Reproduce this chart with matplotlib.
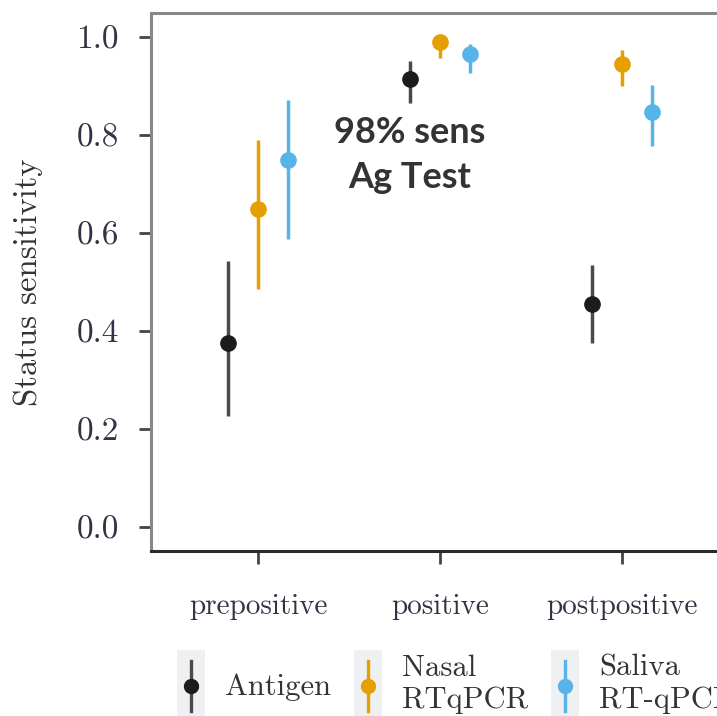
import matplotlib
matplotlib.use("Agg")
import matplotlib.pyplot as plt
from matplotlib.patches import Rectangle
from matplotlib.lines import Line2D
from matplotlib.legend_handler import HandlerBase
import numpy as np

plt.rcParams['font.family'] = ['cmr10', 'DejaVu Serif']
plt.rcParams['axes.formatter.use_mathtext'] = True

stages = ['prepositive', 'positive', 'postpositive']
tests = ['Antigen', 'Nasal\nRTqPCR', 'Saliva\nRT-qPCR']
colors = ['#1c1c1c', '#E69F00', '#56B4E9']
line_colors = ['#4a4a4a', '#E69F00', '#56B4E9']

# point estimate and interval, rows = test, cols = stage
est = [[0.376, 0.916, 0.454],
       [0.650, 0.990, 0.945],
       [0.750, 0.967, 0.847]]
low = [[0.227, 0.865, 0.376],
       [0.485, 0.959, 0.900],
       [0.587, 0.928, 0.779]]
high = [[0.542, 0.951, 0.534],
        [0.791, 1.000, 0.975],
        [0.873, 0.986, 0.902]]

dodge = 0.165


class PointRangeHandler(HandlerBase):
    # grey key box with a vertical pointrange, ggplot style
    def __init__(self, color, lcolor):
        super().__init__()
        self.color = color
        self.lcolor = lcolor

    def create_artists(self, legend, orig_handle, xdescent, ydescent,
                       width, height, fontsize, trans):
        x0, y0 = -xdescent, -ydescent
        rect = Rectangle((x0, y0), width, height, facecolor='#eff0f2',
                         edgecolor='none', transform=trans)
        cx = x0 + width / 2
        cy = y0 + height / 2
        ln = Line2D([cx, cx], [y0 + 0.15 * height, y0 + 0.85 * height],
                    color=self.lcolor, lw=2.4, transform=trans)
        mk = Line2D([cx], [cy], marker='o', markersize=10, color=self.color,
                    lw=0, transform=trans)
        return [rect, ln, mk]


fig = plt.figure(figsize=(7.17, 7.16), dpi=100)
ax = fig.add_axes([151 / 717, 165 / 716, 600 / 717, 538 / 716])

x = np.arange(len(stages))
handles = []
for i, t in enumerate(tests):
    xi = x + (i - 1) * dodge
    e = np.array(est[i])
    yerr = [e - np.array(low[i]), np.array(high[i]) - e]
    ax.errorbar(xi, e, yerr=yerr, fmt='o', color=colors[i], ecolor=line_colors[i],
                elinewidth=2.5, markersize=11, capsize=0, zorder=3)
    handles.append(Line2D([], [], color=colors[i]))

ax.set_xlim(-0.588, (751 - 258) / 182)
ax.set_ylim(-0.05, 1.05)
ax.set_xticks(x)
ax.set_xticklabels(stages)
ax.set_yticks([0.0, 0.2, 0.4, 0.6, 0.8, 1.0])
ax.set_yticklabels(['0.0', '0.2', '0.4', '0.6', '0.8', '1.0'])
ax.tick_params(axis='x', length=9, width=2, pad=22, labelsize=21, colors='#444444', labelcolor='#333344')
ax.tick_params(axis='y', length=9, width=2, pad=14, labelsize=24, colors='#444444', labelcolor='#333344')
ax.set_ylabel('Status sensitivity', fontsize=23.5, color='#333333', labelpad=24)

for s in ['left', 'top', 'right']:
    ax.spines[s].set_color('#888888')
    ax.spines[s].set_linewidth(2.2)
ax.spines['bottom'].set_color('#2a2a2a')
ax.spines['bottom'].set_linewidth(2.2)

ax.text(1 - dodge, 0.76, '98% sens\nAg Test', ha='center', va='center',
        fontsize=26, fontweight='bold', family='Lato', color='#333333',
        linespacing=1.45)

fig.legend(handles, tests, loc='upper left', bbox_to_anchor=(177 / 717, 1 - 650 / 716),
           ncol=3, frameon=False, fontsize=22, handlelength=0.92, handleheight=3.25,
           handletextpad=0.65, columnspacing=0.75, labelcolor='#333333', borderpad=0,
           borderaxespad=0,
           handler_map={h: PointRangeHandler(colors[i], line_colors[i]) for i, h in enumerate(handles)})

fig.savefig('out.png', dpi=100)
